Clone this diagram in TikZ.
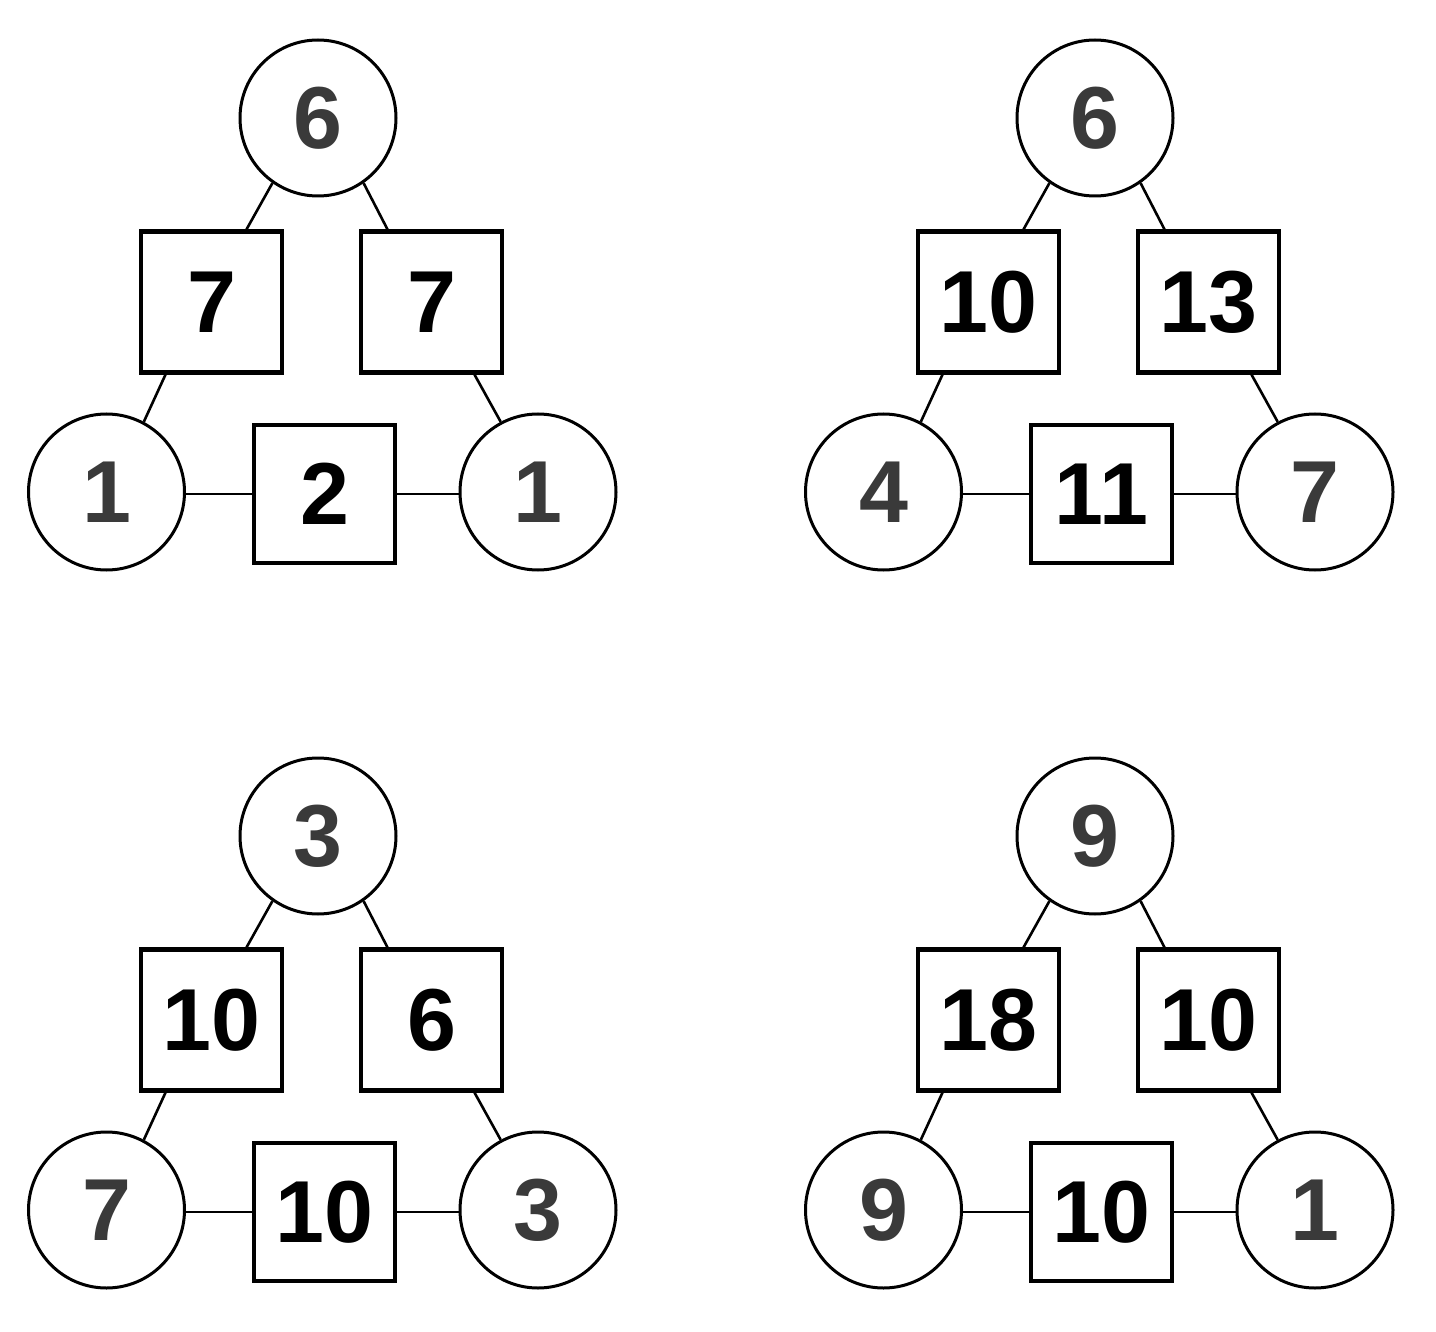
\documentclass[tikz,border=0pt]{standalone}
\usepackage{fontspec}
\setsansfont{Liberation Sans}
\usetikzlibrary{calc}
\definecolor{numgray}{HTML}{3A3A3A}
\newcommand\numfnt{\fontsize{88pt}{88pt}\selectfont\sffamily\bfseries}
\tikzset{
  numc/.style={circle, draw, line width=3pt, minimum size=156pt, inner sep=0pt, text=numgray, font=\numfnt},
  nums/.style={rectangle, draw, line width=4.2pt, minimum width=141pt, minimum height=141pt, inner sep=0pt, text=black, font=\numfnt},
  link/.style={line width=2.6pt}
}
% #1,#2 offset; #3 prefix; #4 top; #5 left square; #6 right square; #7 bottom-left; #8 bottom square; #9 bottom-right
\newcommand\puzzlefig[9]{%
  \begin{scope}[shift={(#1,#2)}]
    \node[numc] (#3t) at (318,118) {#4};
    \node[nums] (#3l) at (211.5,302) {#5};
    \node[nums] (#3r) at (431.5,302) {#6};
    \node[numc] (#3a) at (106.5,492) {#7};
    \node[nums, minimum height=138pt] (#3m) at (324.5,494) {#8};
    \node[numc] (#3b) at (538,492) {#9};
    \draw[link] (#3t.235) -- ($(#3l.north)+(35,0)$);
    \draw[link] (#3t.305) -- ($(#3r.north)+(-44,0)$);
    \draw[link] ($(#3l.south)+(-46,0)$) -- (#3a.62.5);
    \draw[link] ($(#3r.south)+(43,0)$) -- (#3b.118);
    \draw[link] (#3m.west) -- (#3m.west -| #3a.east);
    \draw[link] (#3m.east) -- (#3m.east -| #3b.west);
  \end{scope}%
}
\begin{document}
\begin{tikzpicture}[x=1pt,y=-1pt]
  \useasboundingbox[fill=white] (0,0) rectangle (1436,1332);
  \puzzlefig{0}{0}{A}{6}{7}{7}{1}{2}{1}
  \puzzlefig{777}{0}{B}{6}{10}{13}{4}{11}{7}
  \puzzlefig{0}{718}{C}{3}{10}{6}{7}{10}{3}
  \puzzlefig{777}{718}{D}{9}{18}{10}{9}{10}{1}
\end{tikzpicture}
\end{document}
